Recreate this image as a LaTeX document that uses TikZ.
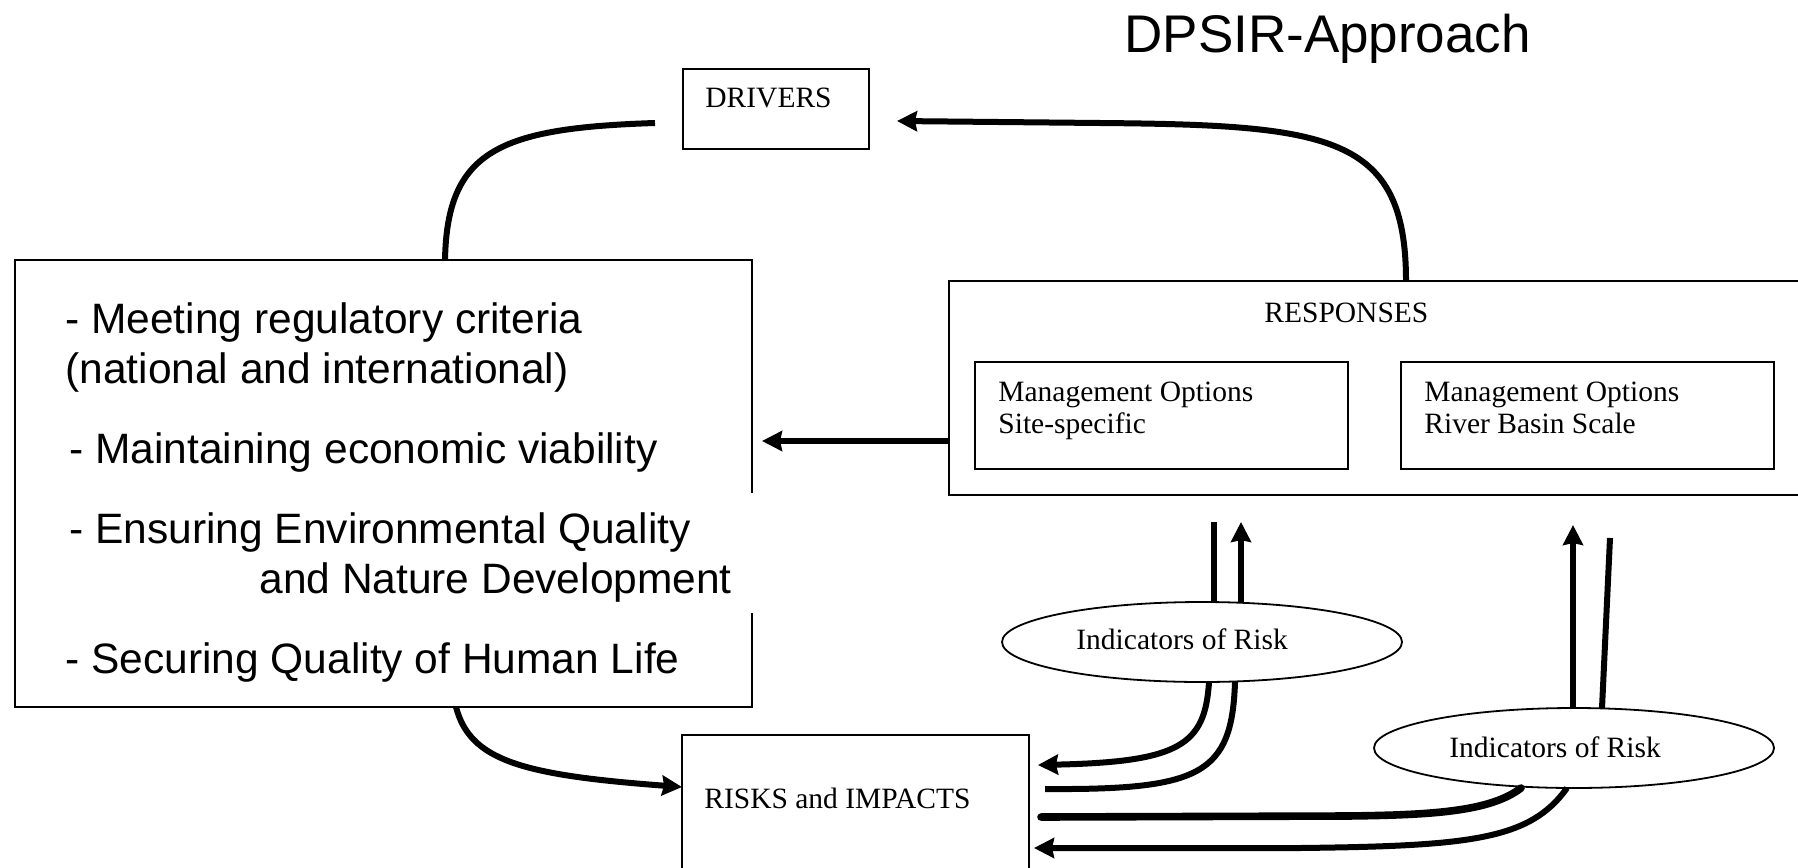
\documentclass[tikz,border=0pt]{standalone}
\usepackage{fontspec}
\setmainfont{Liberation Serif}
\newfontfamily\arialf{Liberation Sans}
\usetikzlibrary{arrows.meta,shapes.geometric}
\begin{document}
\begin{tikzpicture}[x=0.5pt,y=-0.5pt,
  thinbox/.style={draw, line width=0.9pt, inner sep=0, outer sep=0},
  ell/.style={ellipse, draw, line width=0.9pt, inner sep=0, outer sep=0, minimum width=200pt, minimum height=40pt},
  conn/.style={line width=3pt},
  arr/.style={conn, -{Stealth[length=10pt,width=10pt,inset=1pt]}},
  tm/.style={font=\fontsize{14.75pt}{17pt}\selectfont, inner sep=0, anchor=base west},
  ar/.style={font=\arialf\fontsize{21.25pt}{25pt}\selectfont, inner sep=0, anchor=base west},
  ttl/.style={font=\arialf\fontsize{26.5pt}{30pt}\selectfont, inner sep=0, anchor=base west}]
\useasboundingbox (0,0) rectangle (1798,867);

% title
\node[ttl] (title) at (1124,52) {DPSIR-Approach};

% boxes
\node[thinbox, minimum width=93pt, minimum height=40pt] (drivers) at (776,109) {};
\node[tm] (tdrivers) at (705,107) {DRIVERS};

\node[draw, line width=1.2pt, inner sep=0, outer sep=0, minimum width=368.5pt, minimum height=223.5pt] (goals) at (383.5,483.5) {};
\fill[white] (745,493) rectangle (760,613);
\node[ar] (g1) at (65,333) {- Meeting regulatory criteria};
\node[ar] (g2) at (65,383) {(national and international)};
\node[ar] (g3) at (69,463) {- Maintaining economic viability};
\node[ar] (g4) at (69,543) {- Ensuring Environmental Quality};
\node[ar] (g5) at (259,593) {and Nature Development};
\node[ar] (g6) at (65,673) {- Securing Quality of Human Life};

\node[thinbox, minimum width=428pt, minimum height=107pt] (resp) at (1377,388) {};
\node[tm] (tresp) at (1264,322) {RESPONSES};
\node[thinbox, minimum width=186.5pt, minimum height=53.5pt] (opt1) at (1161.5,415.5) {};
\node[tm] (o1a) at (998,401) {Management Options};
\node[tm] (o1b) at (998,433) {Site-specific};
\node[thinbox, minimum width=186.5pt, minimum height=53.5pt] (opt2) at (1587.5,415.5) {};
\node[tm] (o2a) at (1424,401) {Management Options};
\node[tm] (o2b) at (1424,433) {River Basin Scale};

\node[thinbox, minimum width=173.5pt, minimum height=70pt] (risks) at (855.5,805) {};
\node[tm] (trisks) at (704,808) {RISKS and IMPACTS};

\node[ell] (ind1) at (1202,642) {};
\node[tm] (tind1) at (1076,649) {Indicators of Risk};
\node[ell] (ind2) at (1574,748) {};
\node[tm] (tind2) at (1449,757) {Indicators of Risk};

% free ends
\coordinate (dl) at (655,123);
\coordinate (dr) at (897,121);

% connectors
\draw[conn] (goals.north -| 445,0) .. controls (447,150) and (500,128) .. (dl);
\draw[arr] (resp.north -| 1406,0) .. controls (1406,135) and (1330,125) .. (1100,123) -- (dr);
\draw[arr] (resp.west |- 0,441) -- ([xshift=5pt]goals.east |- 0,441);
\draw[arr] (goals.south -| 456,0) .. controls (470,760) and (520,775) .. (risks.west |- 0,787);

\draw[conn] (ind1.north -| 1214,0) -- (1214,522);
\draw[arr] (ind1.north -| 1241,0) -- (1241,522);
\draw[arr] (ind1.south -| 1209,0) .. controls (1205,745) and (1180,762) .. ([xshift=4.5pt]risks.east |- 0,765);
\draw[conn] (ind1.south -| 1235,0) .. controls (1232,775) and (1200,790) .. ([xshift=8pt]risks.east |- 0,789);

\draw[conn, line width=3.8pt, line cap=round] (ind2.south -| 1521,0) .. controls (1490,812) and (1430,815) .. (1347,816) -- ([xshift=6pt]risks.east |- 0,817);
\draw[arr] (ind2.south -| 1567,0) .. controls (1530,840) and (1470,846) .. (1300,848) -- ([xshift=2.5pt]risks.east |- 0,848);
\draw[arr] (ind2.north -| 1573,0) -- (1573,525);
\draw[conn] (ind2.north -| 1602,0) -- (1610,538);
\end{tikzpicture}
\end{document}
